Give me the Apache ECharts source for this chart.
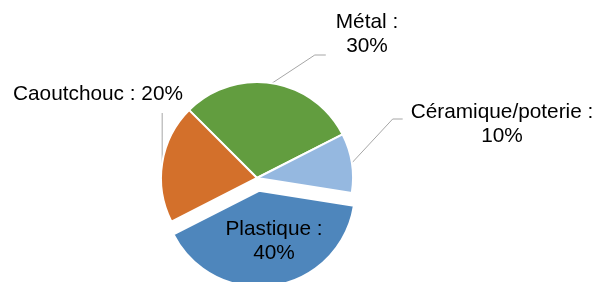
<!DOCTYPE html>
<html>
<head>
<meta charset="utf-8">
<script src="https://cdn.jsdelivr.net/npm/echarts@6/dist/echarts.min.js"></script>
<style>
html, body { margin: 0; padding: 0; background: #fff; }
#chart { width: 594px; height: 282px; }
</style>
</head>
<body>
<div id="chart"></div>
<script>
const names = ['Métal', 'Céramique/poterie', 'Plastique', 'Caoutchouc'];
const values = [30, 10, 40, 20];
const colors = ['#629d3f', '#95b8e0', '#4e86bc', '#d3702b'];

// centre of each outside label block, in px
const labelAt = [[367, 34], [502, 124], null, [98, 94]];

const chart = echarts.init(document.getElementById('chart'));

const data = names.map((name, i) => {
  const item = {
    name,
    value: values[i],
    itemStyle: { color: colors[i] },
    label: { formatter: name === 'Caoutchouc' ? '{b} : {c}%' : '{b} :\n{c}%' }
  };
  if (name === 'Plastique') {
    // exploded slice, label inside; padding nudges it right/down a bit
    item.selected = true;
    item.label.position = 'inside';
    item.label.padding = [4, 0, 0, 14];
    item.labelLine = { show: false };
  }
  return item;
});

chart.setOption({
  animation: false,
  series: [{
    type: 'pie',
    center: [257, 178],
    radius: 96,
    startAngle: 135,
    clockwise: true,
    selectedMode: 'single',
    selectedOffset: 13,
    avoidLabelOverlap: false,
    itemStyle: { borderColor: '#fff', borderWidth: 2 },
    select: { itemStyle: { borderColor: '#fff', borderWidth: 2 }, label: { color: '#000' } },
    emphasis: { disabled: true },
    label: {
      show: true,
      position: 'outside',
      color: '#000',
      fontFamily: 'Liberation Sans, Arial, sans-serif',
      fontSize: 20.8,
      lineHeight: 24,
      align: 'center'
    },
    labelLine: {
      show: true,
      length: 10,
      length2: 10,
      lineStyle: { color: '#a6a6a6', width: 1 }
    },
    labelLayout: params => {
      const i = params.dataIndex;
      if (!labelAt[i]) return {};
      const [x, y] = labelAt[i];
      const w = params.labelRect.width;
      const h = params.labelRect.height;
      const left = x - w / 2;
      const top = y - h / 2;
      const out = { x, y, align: 'center', verticalAlign: 'middle' };
      const pts = params.labelLinePoints;
      if (pts && pts.length) {
        const start = [pts[0][0], pts[0][1]];
        if (i === 0) {
          const end = [left - 10, top + h - 3];
          out.labelLinePoints = [start, [end[0] - 11, end[1]], end];
        } else if (i === 1) {
          const end = [left - 8, top + 19];
          out.labelLinePoints = [start, [end[0] - 10, end[1]], end];
        } else if (i === 3) {
          const end = [start[0], top + h + 7];
          out.labelLinePoints = [start, [start[0], (start[1] + end[1]) / 2], end];
        }
      }
      return out;
    },
    data
  }]
});
</script>
</body>
</html>
